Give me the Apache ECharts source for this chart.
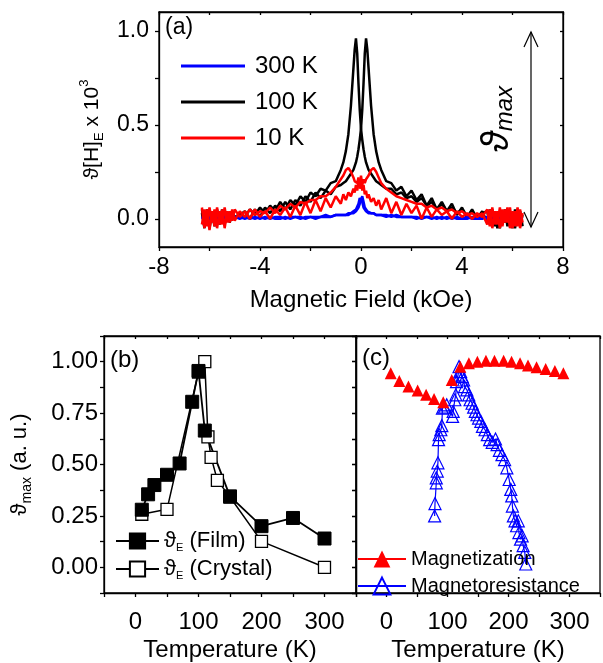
<!DOCTYPE html>
<html><head><meta charset="utf-8">
<script src="https://cdn.jsdelivr.net/npm/echarts@6/dist/echarts.min.js"></script>
<style>html,body{margin:0;padding:0;background:#fff}#c{width:603px;height:663px}</style>
</head><body><div id="c"></div>
<script>
// ---------- Panel (a): field sweeps ----------
const fieldKOe = [-6.3,-6.2,-6.1,-6.0,-5.9,-5.8,-5.7,-5.6,-5.5,-5.4,-5.3,-5.2,-5.1,-5.0,
 -4.8,-4.6,-4.4,-4.2,-4.0,-3.8,-3.6,-3.4,-3.2,-3.0,-2.8,-2.6,-2.4,-2.2,-2.0,-1.8,-1.6,-1.4,-1.2,-1.0,-0.8,
 -0.7,-0.6,-0.5,-0.4,-0.3,-0.25,-0.2,-0.15,-0.1,-0.05,0,0.05,0.1,0.15,0.2,0.25,0.3,0.4,0.5,0.6,0.7,
 0.8,1.0,1.2,1.4,1.6,1.8,2.0,2.2,2.4,2.6,2.8,3.0,3.2,3.4,3.6,3.8,4.0,4.2,4.4,4.6,4.8,
 5.0,5.1,5.2,5.3,5.4,5.5,5.6,5.7,5.8,5.9,6.0,6.1,6.2,6.3,6.4];

const k100A = [0.05,-0.04,0.04,-0.05,0.03,-0.03,0.05,-0.02,0.04,-0.03,0.03,-0.01,0.04,0.0,
 0.03,0.01,0.05,0.02,0.06,0.03,0.07,0.04,0.09,0.05,0.10,0.07,0.12,0.09,0.14,0.12,0.16,0.15,0.19,0.20,0.26,
 0.30,0.36,0.45,0.60,0.80,0.90,0.96,0.88,0.72,0.58,0.48,0.42,0.37,0.33,0.30,0.28,0.26,0.24,0.22,0.20,0.19,
 0.18,0.16,0.16,0.13,0.14,0.11,0.12,0.09,0.11,0.07,0.09,0.05,0.08,0.04,0.06,0.03,0.05,0.01,0.04,0.01,0.03,
 0.04,-0.03,0.05,-0.04,0.03,-0.05,0.04,-0.02,0.05,-0.04,0.03,-0.05,0.04,-0.03,0.02];
const k100B = [0.03,-0.05,0.05,-0.03,0.04,-0.04,0.02,-0.03,0.05,-0.02,0.04,-0.02,0.03,0.01,
 0.02,0.04,0.0,0.05,0.01,0.06,0.03,0.07,0.04,0.09,0.05,0.10,0.07,0.12,0.09,0.14,0.11,0.15,0.13,0.17,0.18,
 0.19,0.20,0.22,0.24,0.26,0.28,0.30,0.33,0.37,0.42,0.48,0.58,0.72,0.88,0.96,0.90,0.80,0.60,0.45,0.36,0.30,
 0.26,0.20,0.19,0.15,0.17,0.12,0.15,0.10,0.13,0.07,0.11,0.05,0.09,0.04,0.08,0.02,0.06,0.01,0.05,0.0,0.04,
 -0.02,0.05,-0.04,0.04,-0.05,0.03,-0.03,0.05,-0.04,0.04,-0.05,0.05,-0.03,0.04,-0.04];
const k300A = [0.01,-0.01,0.02,0.0,0.01,-0.01,0.02,0.0,0.01,0.0,0.02,0.0,0.01,0.01,
 0.0,0.01,0.0,0.01,0.0,0.01,0.0,0.01,0.01,0.0,0.01,0.01,0.0,0.01,0.01,0.01,0.01,0.02,0.01,0.02,0.02,
 0.02,0.02,0.03,0.03,0.04,0.04,0.05,0.06,0.08,0.11,0.12,0.09,0.06,0.05,0.04,0.04,0.03,0.03,0.03,0.02,0.02,
 0.02,0.02,0.01,0.02,0.01,0.01,0.01,0.01,0.0,0.01,0.01,0.0,0.01,0.0,0.01,0.0,0.0,0.01,0.0,0.0,0.01,
 0.0,0.01,-0.01,0.01,0.0,0.02,0.0,0.01,-0.01,0.01,0.0,0.02,-0.01,0.01,0.0];
const k300B = [0.0,0.02,-0.01,0.01,0.0,0.02,0.0,0.01,-0.01,0.02,0.0,0.01,0.0,0.01,
 0.01,0.0,0.01,0.0,0.01,0.0,0.01,0.0,0.0,0.01,0.0,0.01,0.01,0.0,0.01,0.0,0.01,0.01,0.01,0.02,0.02,
 0.02,0.02,0.02,0.03,0.03,0.03,0.04,0.05,0.06,0.08,0.10,0.12,0.09,0.06,0.05,0.04,0.04,0.03,0.03,0.02,0.02,
 0.02,0.01,0.02,0.01,0.01,0.01,0.01,0.0,0.01,0.01,0.0,0.01,0.0,0.01,0.0,0.01,0.0,0.0,0.01,0.0,0.0,
 0.01,0.0,0.02,-0.01,0.01,0.0,0.01,0.0,0.02,-0.01,0.01,0.0,0.01,0.0,0.01];
const k10A = [0.06,-0.05,0.05,-0.06,0.04,-0.04,0.06,-0.03,0.05,-0.05,0.04,-0.02,0.05,-0.01,
 0.04,0.01,0.05,0.02,0.04,0.03,0.06,0.03,0.07,0.05,0.08,0.06,0.09,0.08,0.10,0.10,0.12,0.12,0.14,0.17,0.21,
 0.23,0.26,0.27,0.25,0.22,0.20,0.21,0.19,0.22,0.16,0.21,0.15,0.18,0.13,0.15,0.11,0.13,0.09,0.11,0.07,0.10,
 0.05,0.11,0.03,0.09,0.02,0.08,0.03,0.07,0.0,0.06,0.01,0.05,0.02,0.04,0.0,0.04,0.01,0.03,0.0,0.03,0.01,
 0.05,-0.04,0.06,-0.03,0.04,-0.05,0.05,-0.02,0.06,-0.05,0.04,-0.04,0.06,-0.05,0.03];
const k10B = [-0.03,0.05,-0.04,0.06,-0.02,0.05,-0.05,0.04,-0.03,0.06,-0.02,0.04,-0.01,0.05,
 0.01,0.04,0.0,0.05,0.01,0.04,0.0,0.05,0.02,0.06,0.01,0.07,0.02,0.09,0.03,0.10,0.04,0.11,0.06,0.12,0.08,
 0.13,0.10,0.14,0.12,0.16,0.14,0.18,0.15,0.20,0.17,0.23,0.18,0.21,0.19,0.21,0.22,0.23,0.26,0.27,0.25,0.22,
 0.19,0.16,0.14,0.12,0.11,0.10,0.09,0.08,0.08,0.06,0.07,0.05,0.06,0.04,0.05,0.03,0.04,0.02,0.03,0.01,0.03,
 -0.03,0.05,-0.05,0.04,-0.03,0.06,-0.04,0.05,-0.02,0.06,-0.05,0.04,-0.04,0.05,-0.02];

const thetaTicksA = [0, 0.5, 1.0];
const thetaMinorA = [0, 0.25, 0.5, 0.75, 1.0];

// ---------- Panel (b) ----------
const tempFilm = [10,20,30,50,70,90,100,110,150,200,250,300];
const thetaFilm = [0.28,0.355,0.40,0.45,0.505,0.805,0.955,0.665,0.345,0.20,0.24,0.14];
const tempCrystal = [10,50,100,110,115,120,130,150,200,300];
const thetaCrystal = [0.258,0.282,0.95,1.0,0.634,0.535,0.423,0.342,0.126,0.0];
const thetaTicksB = [0, 0.25, 0.5, 0.75, 1.0];
const thetaMinorB = [-0.125, 0, 0.125, 0.25, 0.375, 0.5, 0.625, 0.75, 0.875, 1.0, 1.125];

// ---------- Panel (c) ----------
const tempMag = [7,21,36,51,65,78,93,107,121,135,149,163,177,192,205,219,232,246,261,276,290];
const valMag = [0.944,0.906,0.879,0.86,0.839,0.818,0.803,0.911,0.976,0.992,1.0,1.005,1.005,1.005,1.0,0.992,0.981,0.973,0.965,0.955,0.944];
const tempMR = [78.9,79.5,81.6,81.6,83.2,84.3,85.3,86.4,89.1,90.7,91.7,94.9,98.7,108.3,109.3,112,113.6,114.7,117.3,118.9,
 121.6,124.3,126.4,128,131.7,134.9,137,140.3,142.9,145.6,148.3,150.9,154.7,157.3,161.6,165.3,169.1,173.3,178.7,181.3,
 185.1,189.3,193.6,197.3,201.1,203.7,205.3,206.4,208,210.7,213.3,216,217.1,219.7,222.4,224,226.7,228.3];
const valMR = [0.25,0.31,0.411,0.435,0.468,0.508,0.621,0.645,0.669,0.689,0.774,0.779,0.79,0.734,0.758,0.815,0.839,0.903,0.935,0.976,
 0.952,0.927,0.911,0.879,0.863,0.839,0.815,0.798,0.779,0.758,0.742,0.726,0.71,0.685,0.669,0.645,0.621,0.608,0.624,0.597,
 0.569,0.548,0.524,0.484,0.427,0.379,0.347,0.298,0.25,0.226,0.202,0.226,0.169,0.137,0.153,0.105,0.073,0.016];

// ---------------------------------------------------------------
const FONT = "'Liberation Sans', Arial, sans-serif";
const zip = (xs, ys) => xs.map((x, i) => [x, ys[i]]);
const AX = {color:'#000', width:1.3};

function xBottom(grid, min, max, interval, labelFn, margin, extra) {
  return Object.assign({type:'value', gridIndex:grid, min, max, interval, position:'bottom',
    axisLine:{show:true, onZero:false, lineStyle:AX},
    axisTick:{show:true, inside:false, length:4, lineStyle:AX},
    splitLine:{show:false},
    axisLabel:{formatter:labelFn, color:'#000', fontFamily:FONT, fontSize:24, margin:margin}}, extra||{});
}
function xTop(grid, min, max, interval) {
  return {type:'value', gridIndex:grid, min, max, interval, position:'top',
    axisLine:{show:true, onZero:false, lineStyle:AX},
    axisTick:{show:true, inside:true, length:3, lineStyle:AX},
    splitLine:{show:false}, axisLabel:{show:false}};
}
const tempLabel = v => (v >= 0 && v % 100 === 0 ? String(v) : '');

const option = {
  animation:false,
  backgroundColor:'#fff',
  grid:[
    {left:159, top:12, width:404, height:235, show:true, borderColor:'#000', borderWidth:1.3},
    {left:104, top:336, width:252, height:258, show:true, borderColor:'#000', borderWidth:1.3},
    {left:356, top:336, width:250, height:258, show:true, borderColor:'#000', borderWidth:1.3}
  ],
  xAxis:[
    xBottom(0, -8, 8, 2, v => (v % 4 === 0 ? String(v) : ''), 8, {
      name:'Magnetic Field (kOe)', nameLocation:'middle', nameGap:41,
      nameTextStyle:{color:'#000', fontFamily:FONT, fontSize:24}}),
    xTop(0, -8, 8, 2),
    xBottom(1, -50, 350, 50, tempLabel, 17, {
      name:'Temperature (K)', nameLocation:'middle', nameGap:45,
      nameTextStyle:{color:'#000', fontFamily:FONT, fontSize:24}}),
    xTop(1, -50, 350, 50),
    xBottom(2, -50, 350, 50, tempLabel, 17, {
      name:'Temperature (K)', nameLocation:'middle', nameGap:45,
      nameTextStyle:{color:'#000', fontFamily:FONT, fontSize:24}}),
    xTop(2, -50, 350, 50)
  ],
  yAxis:[
    {type:'value', gridIndex:0, min:-0.15, max:1.1, position:'left',
     axisLine:{show:true, onZero:false, lineStyle:AX},
     axisTick:{show:true, inside:false, length:4, lineStyle:AX, customValues:thetaMinorA},
     splitLine:{show:false},
     axisLabel:{customValues:thetaTicksA, formatter:v => v.toFixed(1), color:'#000', fontFamily:FONT, fontSize:23, margin:10},
     name:'{m|ϑ[H]}{s|E}{m| x 10}{p|3}', nameLocation:'middle', nameGap:28,
     nameTextStyle:{color:'#000', fontFamily:FONT, fontSize:21,
       rich:{m:{fontSize:21, fontFamily:FONT, color:'#000', lineHeight:28},
             s:{fontSize:13, fontFamily:FONT, color:'#000', verticalAlign:'bottom', lineHeight:28},
             p:{fontSize:13, fontFamily:FONT, color:'#000', verticalAlign:'top', lineHeight:28}}}},
    {type:'value', gridIndex:0, min:-0.15, max:1.1, position:'right',
     axisLine:{show:true, onZero:false, lineStyle:AX},
     axisTick:{show:true, inside:true, length:3, lineStyle:AX, customValues:thetaMinorA},
     splitLine:{show:false}, axisLabel:{show:false}},
    {type:'value', gridIndex:1, min:-0.125, max:1.125, position:'left',
     axisLine:{show:true, onZero:false, lineStyle:AX},
     axisTick:{show:true, inside:false, length:4, lineStyle:AX, customValues:thetaMinorB},
     splitLine:{show:false},
     axisLabel:{customValues:thetaTicksB, formatter:v => v.toFixed(2), color:'#000', fontFamily:FONT, fontSize:24, margin:6},
     name:'{m|ϑ}{s|max}{m| (a. u.)}', nameLocation:'middle', nameGap:70,
     nameTextStyle:{color:'#000', fontFamily:FONT, fontSize:22,
       rich:{m:{fontSize:22, fontFamily:FONT, color:'#000', lineHeight:28},
             s:{fontSize:14, fontFamily:FONT, color:'#000', verticalAlign:'bottom', lineHeight:28}}}},
    {type:'value', gridIndex:1, min:-0.125, max:1.125, position:'right',
     axisLine:{show:true, onZero:false, lineStyle:AX},
     axisTick:{show:true, inside:true, length:4, lineStyle:AX, customValues:thetaMinorB},
     splitLine:{show:false}, axisLabel:{show:false}},
    {type:'value', gridIndex:2, min:-0.125, max:1.125, position:'left',
     axisLine:{show:true, onZero:false, lineStyle:AX},
     axisTick:{show:true, inside:false, length:4, lineStyle:AX, customValues:thetaMinorB},
     splitLine:{show:false}, axisLabel:{show:false}}
  ],
  legend:[
    {data:['300 K','100 K','10 K'], orient:'vertical', left:181, top:54, padding:0,
     icon:'rect', itemWidth:64, itemHeight:3, itemGap:12,
     textStyle:{fontFamily:FONT, fontSize:24, color:'#000', padding:[0,0,0,5]}},
    {data:['Film','Crystal'], orient:'vertical', left:115, top:530, padding:0,
     itemWidth:43, itemHeight:19, itemGap:5,
     formatter:n => '{t|ϑ}{s|E}{m| (' + n + ')}',
     textStyle:{fontFamily:FONT, fontSize:22, color:'#000',
       rich:{t:{fontSize:22, fontFamily:FONT, lineHeight:24}, s:{fontSize:11, fontFamily:FONT, verticalAlign:'bottom', lineHeight:24},
             m:{fontSize:22, fontFamily:FONT, lineHeight:24}}}},
    {data:[{name:'Magnetization', lineStyle:{opacity:1, width:2, color:'#ff0000'}},
           {name:'Magnetoresistance', lineStyle:{opacity:1, width:2, color:'#0000ff'}}],
     orient:'vertical', left:357, top:549, padding:0,
     itemWidth:48, itemHeight:21, itemGap:7,
     textStyle:{fontFamily:FONT, fontSize:20, color:'#000'}}
  ],
  series:[
    {name:'100 K', type:'line', xAxisIndex:0, yAxisIndex:0, data:zip(fieldKOe,k100A), symbol:'none', color:'#000', lineStyle:{width:2.5, color:'#000'}},
    {name:'100 K', type:'line', xAxisIndex:0, yAxisIndex:0, data:zip(fieldKOe,k100B), symbol:'none', color:'#000', lineStyle:{width:2.5, color:'#000'}},
    {name:'300 K', type:'line', xAxisIndex:0, yAxisIndex:0, data:zip(fieldKOe,k300A), symbol:'none', color:'#0000ff', lineStyle:{width:2.5, color:'#0000ff'}},
    {name:'300 K', type:'line', xAxisIndex:0, yAxisIndex:0, data:zip(fieldKOe,k300B), symbol:'none', color:'#0000ff', lineStyle:{width:2.5, color:'#0000ff'}},
    {name:'10 K', type:'line', xAxisIndex:0, yAxisIndex:0, data:zip(fieldKOe,k10A), symbol:'none', color:'#ff0000', lineStyle:{width:2.5, color:'#ff0000'}},
    {name:'10 K', type:'line', xAxisIndex:0, yAxisIndex:0, data:zip(fieldKOe,k10B), symbol:'none', color:'#ff0000', lineStyle:{width:2.5, color:'#ff0000'}},

    {name:'Crystal', type:'line', xAxisIndex:2, yAxisIndex:2, data:zip(tempCrystal,thetaCrystal),
     symbol:'rect', symbolSize:12, lineStyle:{color:'#000', width:1.5},
     itemStyle:{color:'#fff', borderColor:'#000', borderWidth:1.3}},
    {name:'Film', type:'line', xAxisIndex:2, yAxisIndex:2, data:zip(tempFilm,thetaFilm),
     symbol:'rect', symbolSize:13, lineStyle:{color:'#000', width:1.8},
     itemStyle:{color:'#000', borderColor:'#000', borderWidth:1}},

    {name:'Magnetoresistance', type:'line', xAxisIndex:4, yAxisIndex:4, data:zip(tempMR,valMR),
     symbol:'triangle', symbolSize:12, lineStyle:{color:'#0000ff', width:1.2},
     itemStyle:{color:'rgba(255,255,255,0)', borderColor:'#0000ff', borderWidth:1.2}},
    {name:'Magnetization', type:'line', xAxisIndex:4, yAxisIndex:4, data:zip(tempMag,valMag),
     symbol:'triangle', symbolSize:12, lineStyle:{color:'#ff0000', width:1.5, opacity:0},
     itemStyle:{color:'#ff0000'}}
  ],
  graphic:[
    {type:'text', left:165, top:16, style:{text:'(a)', font:'23px ' + FONT, fill:'#000'}},
    {type:'text', left:110, top:348, style:{text:'(b)', font:'24px ' + FONT, fill:'#000'}},
    {type:'text', left:362, top:346, style:{text:'(c)', font:'24px ' + FONT, fill:'#000'}},
    {type:'text', x:497, y:119, rotation:Math.PI/2,
     style:{text:'{t|ϑ}{s|max}', align:'center', verticalAlign:'middle',
       rich:{t:{font:'italic 38px ' + FONT, fill:'#000', lineHeight:40},
             s:{font:'italic 24px ' + FONT, fill:'#000', verticalAlign:'bottom', lineHeight:40}}}},
    {type:'polyline', shape:{points:[[531,32],[531,227]]}, style:{stroke:'#000', lineWidth:1.2, fill:null}},
    {type:'polyline', shape:{points:[[524,47],[531,32],[538,47]]}, style:{stroke:'#000', lineWidth:1.2, fill:null}},
    {type:'polyline', shape:{points:[[524,212],[531,227],[538,212]]}, style:{stroke:'#000', lineWidth:1.2, fill:null}}
  ]
};
const chart = echarts.init(document.getElementById('c'), null, {renderer:'canvas'});
chart.setOption(option);
</script></body></html>
